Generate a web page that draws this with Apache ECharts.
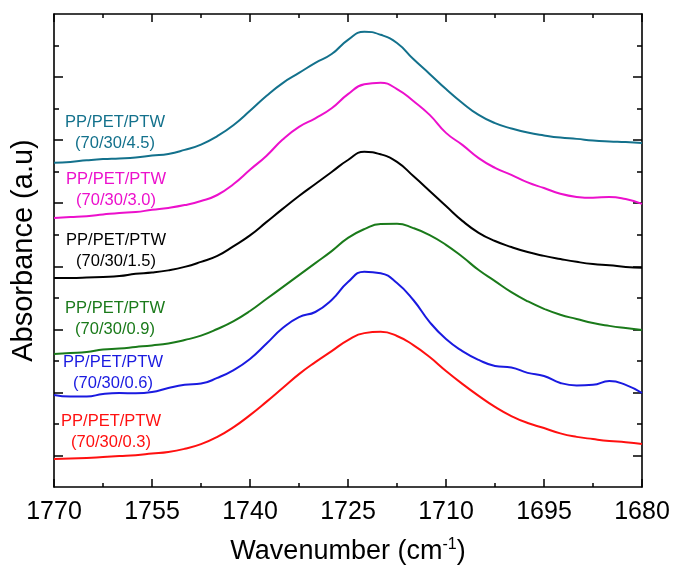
<!DOCTYPE html>
<html>
<head>
<meta charset="utf-8">
<script src="https://cdn.jsdelivr.net/npm/echarts@6/dist/echarts.min.js"></script>
<style>
  html, body { margin: 0; padding: 0; background: #fff; }
  #main { width: 674px; height: 572px; }
</style>
</head>
<body>
<div id="main"></div>
<script>
// tick labels of the (reversed) wavenumber axis
const xTickLabels = [1770, 1755, 1740, 1725, 1710, 1695, 1680];
// y ticks have no labels: long ones and short ones
const yMajorTicks = [1, 3, 5, 7, 9, 11, 13];
const yMinorTicks = [2, 4, 6, 8, 10, 12, 14];

const sampleNames = ['(70/30/4.5)', '(70/30/3.0)', '(70/30/1.5)', '(70/30/0.9)', '(70/30/0.6)', '(70/30/0.3)'];

// wavenumbers the curves were read at (cm-1)
const wavenumber = [1770, 1767.5, 1765, 1762.5, 1760, 1757.5, 1755, 1752.5, 1750, 1747.5, 1745, 1742.5,
  1740, 1737.5, 1735, 1732.5, 1730, 1727.5, 1725, 1722.5, 1720, 1717.5, 1715, 1712.5,
  1710, 1707.5, 1705, 1702.5, 1700, 1697.5, 1695, 1692.5, 1690, 1687.5, 1685, 1682.5, 1680];

// absorbance (stacked offset, a.u.)
const ptw45 = [10.28, 10.31, 10.36, 10.40, 10.42, 10.45, 10.51, 10.56, 10.69, 10.86, 11.13, 11.48,
  11.93, 12.40, 12.81, 13.13, 13.45, 13.73, 14.18, 14.44, 14.34, 14.08, 13.57, 13.10,
  12.62, 12.18, 11.80, 11.54, 11.37, 11.24, 11.15, 11.08, 11.04, 10.99, 10.96, 10.94, 10.91];
const ptw30 = [8.53, 8.56, 8.59, 8.64, 8.69, 8.72, 8.79, 8.85, 8.94, 9.07, 9.26, 9.61,
  10.06, 10.50, 11.02, 11.42, 11.69, 12.01, 12.46, 12.77, 12.82, 12.62, 12.24, 11.80,
  11.23, 10.85, 10.43, 10.12, 9.90, 9.66, 9.48, 9.30, 9.20, 9.17, 9.20, 9.13, 8.98];
const ptw15 = [6.63, 6.63, 6.64, 6.66, 6.69, 6.76, 6.80, 6.87, 6.98, 7.14, 7.33, 7.64,
  7.98, 8.40, 8.82, 9.23, 9.61, 9.99, 10.37, 10.63, 10.55, 10.31, 9.86, 9.39,
  8.91, 8.44, 8.06, 7.80, 7.61, 7.45, 7.33, 7.23, 7.14, 7.07, 7.03, 6.98, 6.95];
const ptw09 = [4.22, 4.25, 4.28, 4.36, 4.39, 4.44, 4.49, 4.55, 4.66, 4.80, 5.01, 5.26,
  5.58, 5.96, 6.34, 6.72, 7.10, 7.48, 7.90, 8.18, 8.34, 8.35, 8.21, 7.99,
  7.68, 7.30, 6.88, 6.53, 6.18, 5.89, 5.65, 5.46, 5.33, 5.20, 5.11, 5.04, 4.98];
const ptw06 = [2.92, 2.87, 2.87, 2.95, 2.98, 2.97, 3.01, 3.14, 3.24, 3.28, 3.46, 3.71,
  4.06, 4.54, 5.04, 5.39, 5.55, 5.93, 6.50, 6.83, 6.78, 6.47, 5.93, 5.23,
  4.69, 4.31, 4.03, 3.84, 3.79, 3.62, 3.52, 3.30, 3.22, 3.24, 3.36, 3.24, 2.98];
const ptw03 = [0.89, 0.90, 0.92, 0.95, 0.98, 1.01, 1.06, 1.11, 1.21, 1.36, 1.59, 1.90,
  2.28, 2.70, 3.14, 3.58, 3.96, 4.31, 4.66, 4.88, 4.92, 4.79, 4.50, 4.12,
  3.68, 3.27, 2.89, 2.54, 2.25, 2.03, 1.87, 1.70, 1.59, 1.52, 1.46, 1.42, 1.36];

const curves = [ptw45, ptw30, ptw15, ptw09, ptw06, ptw03];
const colors = ['#13718c', '#ec10cc', '#000000', '#1a7a1a', '#1a1ae0', '#ff1010'];
// label placement (px, centre of the two-line block)
const labelPos = [[115, 133], [116, 190], [116, 251], [115, 319], [113, 373], [111, 432]];

const chart = echarts.init(document.getElementById('main'));

const frame = { show: true, onZero: false, lineStyle: { color: '#000', width: 1.6 } };

function xAx(pos, showLabel) {
  return {
    type: 'value', position: pos, min: 1680, max: 1770, interval: 15, inverse: true,
    axisLine: frame,
    axisTick: { show: true, inside: true, length: 8, lineStyle: { color: '#000', width: 1.5 } },
    minorTick: { show: true, splitNumber: 2, length: 4, lineStyle: { color: '#000', width: 1.5 } },
    axisLabel: {
      show: showLabel, margin: 13, fontSize: 25, color: '#000', fontFamily: 'Liberation Sans',
      formatter: v => xTickLabels.includes(v) ? String(v) : ''
    },
    splitLine: { show: false }
  };
}

function yAx(pos, ticks, len, line) {
  return {
    type: 'value', position: pos, min: 0, max: 15,
    axisLine: line ? frame : { show: false },
    axisTick: { show: true, inside: true, length: len, customValues: ticks, lineStyle: { color: '#000', width: 1.5 } },
    axisLabel: { show: false },
    splitLine: { show: false }
  };
}

const xMain = xAx('bottom', true);
xMain.name = 'Wavenumber (cm{sup|-1})';
xMain.nameLocation = 'middle';
xMain.nameGap = 50;
xMain.nameTextStyle = {
  fontSize: 27, color: '#000', fontFamily: 'Liberation Sans', lineHeight: 30,
  rich: { sup: { fontSize: 16, color: '#000', fontFamily: 'Liberation Sans', verticalAlign: 'top', lineHeight: 18 } }
};

const yMain = yAx('left', yMajorTicks, 9, true);
yMain.name = 'Absorbance (a.u)';
yMain.nameLocation = 'middle';
yMain.nameGap = 16;
yMain.nameTextStyle = { fontSize: 29, color: '#000', fontFamily: 'Liberation Sans' };

const graphics = sampleNames.map((s, i) => ({
  type: 'text', x: labelPos[i][0], y: labelPos[i][1],
  style: {
    text: 'PP/PET/PTW\n' + s, fill: colors[i], font: '16.5px "Liberation Sans"',
    align: 'center', verticalAlign: 'middle', lineHeight: 21
  }
}));

chart.setOption({
  animation: false,
  grid: { left: 54, top: 14, right: 32, bottom: 85, containLabel: false },
  xAxis: [xMain, xAx('top', false)],
  yAxis: [
    yMain,
    yAx('left', yMinorTicks, 5, false),
    yAx('right', yMajorTicks, 9, true),
    yAx('right', yMinorTicks, 5, false)
  ],
  series: curves.map((vals, i) => ({
    type: 'line', xAxisIndex: 0, yAxisIndex: 0,
    data: wavenumber.map((w, k) => [w, vals[k]]),
    showSymbol: false, smooth: 0.5,
    lineStyle: { color: colors[i], width: 2 },
    itemStyle: { color: colors[i] }
  })),
  graphic: graphics
});
</script>
</body>
</html>
